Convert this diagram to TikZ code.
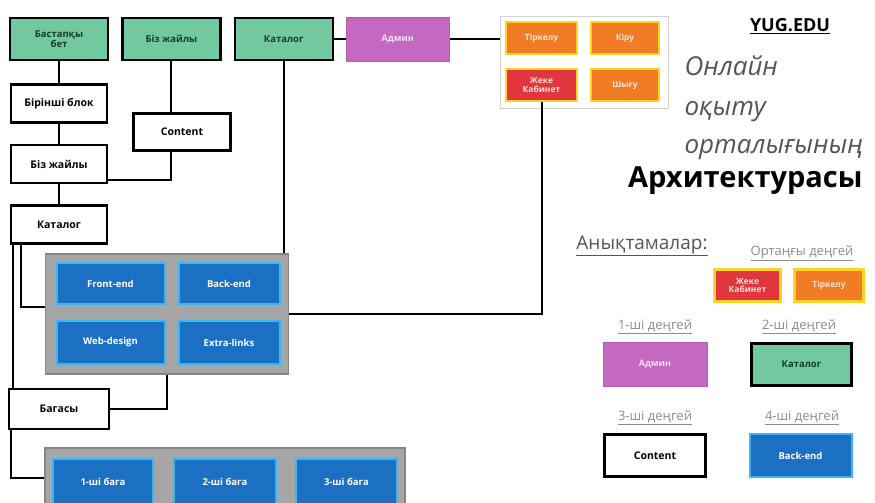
\documentclass[tikz,border=0pt]{standalone}
\usepackage{fontspec}
\setsansfont{Open Sans}
\usetikzlibrary{positioning,calc}

\definecolor{greenfill}{HTML}{72C9A0}
\definecolor{greentext}{HTML}{123D2C}
\definecolor{adminpurple}{HTML}{C568C2}
\definecolor{orangefill}{HTML}{F27B26}
\definecolor{yellowedge}{HTML}{FFD324}
\definecolor{redfill}{HTML}{E2363F}
\definecolor{bluefill}{HTML}{1C70C4}
\definecolor{blueedge}{HTML}{38B6F2}
\definecolor{panelgray}{HTML}{A6A6A6}
\definecolor{paneledge}{HTML}{858585}
\definecolor{notegray}{HTML}{555555}
\definecolor{capgray}{HTML}{8C8C8C}

\begin{document}
\begin{tikzpicture}[
    x=1pt, y=-1pt,
    node distance=20pt,
    every node/.style={font=\sffamily},
    greenbox/.style={
      rectangle, draw=black, line width=2.4pt, fill=greenfill, text=greentext,
      minimum width=98pt, minimum height=42pt, align=center,
      font=\sffamily\bfseries\fontsize{9.5}{10.5}\selectfont
    },
    levelbox/.style={
      rectangle, draw=black, line width=2.6pt, fill=white,
      minimum width=96pt, minimum height=38pt, align=center,
      font=\sffamily\bfseries\fontsize{10.5}{12}\selectfont
    },
    adminbox/.style={
      rectangle, draw=adminpurple!90!black, line width=0.6pt, fill=adminpurple,
      text=white!80!adminpurple, minimum width=103pt, minimum height=44pt,
      font=\sffamily\bfseries\fontsize{9}{10}\selectfont
    },
    orangebox/.style={
      rectangle, draw=yellowedge, line width=2.2pt, fill=orangefill,
      text=white!80!orangefill, minimum height=32pt, align=center,
      font=\sffamily\bfseries\fontsize{8.5}{9.5}\selectfont
    },
    redbox/.style={orangebox, fill=redfill},
    bluebox/.style={
      rectangle, draw=blueedge, line width=2pt, fill=bluefill, text=white,
      minimum height=41pt, font=\sffamily\bfseries\fontsize{9.5}{11}\selectfont
    },
    graypanel/.style={rectangle, draw=paneledge, line width=1.5pt, fill=panelgray},
    caption/.style={text=capgray, font=\sffamily\fontsize{13}{15}\selectfont},
    link/.style={line width=2pt, black}
  ]
    \useasboundingbox (0,0) rectangle (875,503);
    \fill[white] (0,0) rectangle (875,503);
    \clip (0,0) rectangle (875,503);

    % Top row
    \node[greenbox] (home) at (59,39) {Бастапқы\\[-1pt]бет};
    \node[greenbox, right=12pt of home] (abouttop) {Біз жайлы};
    \node[greenbox, right=12pt of abouttop] (catalogtop) {Каталог};
    \node[adminbox, right=12pt of catalogtop] (admin) {Админ};

    % Registration panel
    \node[rectangle, draw=gray!35, line width=0.8pt, fill=white,
      minimum width=168pt, minimum height=92pt] (regpanel) at (584,62) {};
    \node[orangebox, minimum width=71pt] (reg) at (541.5,38) {Тіркелу};
    \node[orangebox, minimum width=68pt] (login) at (625,38) {Кіру};
    \node[redbox, minimum width=71pt] (cabinet) at (541.5,85) {Жеке\\[-1pt]Кабинет};
    \node[orangebox, minimum width=68pt] (logout) at (625,85) {Шығу};

    % Left column
    \node[levelbox, below=22pt of home] (first) {Бірінші блок};
    \node[levelbox, below=of first] (about) {Біз жайлы};
    \node[levelbox, below=of about] (catalog) {Каталог};
    \node[levelbox, minimum width=97pt, minimum height=37pt] (content) at (182,132) {Content};
    \node[levelbox, minimum width=100pt, minimum height=40pt] (price) at (59,409) {Багасы};

    % Catalog panel
    \node[graypanel, minimum width=243pt, minimum height=120pt] (panel1) at (167,314) {};
    \node[bluebox, minimum width=108pt] (frontend) at (110.5,283.5) {Front-end};
    \node[bluebox, minimum width=101pt] (backend) at (229,283.5) {Back-end};
    \node[bluebox, minimum width=108pt, minimum height=43pt] (webdesign) at (110.5,342.5) {Web-design};
    \node[bluebox, minimum width=101pt, minimum height=43pt] (extralinks) at (229,342.5) {Extra-links};

    % Price panel
    \node[graypanel, minimum width=360pt, minimum height=74pt] (panel2) at (225,485) {};
    \node[bluebox, minimum width=100pt, minimum height=46pt] (price1) at (103,482) {1-ші бага};
    \node[bluebox, minimum width=102pt, minimum height=46pt] (price2) at (225,482) {2-ші бага};
    \node[bluebox, minimum width=101pt, minimum height=46pt] (price3) at (346.5,482) {3-ші бага};

    % Connectors
    \draw[link] (home) -- (first);
    \draw[link] (first) -- (about);
    \draw[link] (about) -- (catalog);
    \draw[link] (abouttop.south) -- (abouttop.south |- content.north);
    \draw[link] (content.south -| abouttop.south) |- ([yshift=-16pt]about.east);
    \draw[link] (catalogtop.south) -- (catalogtop.south |- panel1.north);
    \draw[link] (catalogtop) -- (admin);
    \draw[link] (admin.east) -- (admin.east -| regpanel.west);
    \coordinate (catleft) at ([xshift=3pt]catalog.south west);
    \draw[link] (catleft) -- (catleft |- price.north);
    \draw[link] ([xshift=11pt]catalog.south west) |- ([yshift=7pt]panel1.west);
    \draw[link] (panel1.east) -| (cabinet.south);
    \draw[link] (panel1.south) |- (price.east);
    \draw[link] ([xshift=3pt]price.south west) |- ([yshift=7pt]panel2.west);

    % Title
    \node[font=\sffamily\bfseries\fontsize{18}{20}\selectfont] (brand) at (790,26) {\underline{YUG.EDU}};
    \node[anchor=base west, text=notegray, font=\sffamily\itshape\fontsize{26}{28}\selectfont] (line1) at (681,75) {Онлайн};
    \node[anchor=base west, text=notegray, font=\sffamily\itshape\fontsize{26}{28}\selectfont] (line2) at (681,115) {оқыту};
    \node[anchor=base west, text=notegray, font=\sffamily\itshape\fontsize{26}{28}\selectfont] (line3) at (681,153) {орталығының};
    \node[anchor=base west, inner xsep=0pt, font=\sffamily\bfseries\fontsize{29}{32}\selectfont] (title) at (628,187) {Архитектурасы};

    % Legend
    \node[anchor=base, text=notegray, font=\sffamily\fontsize{19}{21}\selectfont] (legendhead) at (642,249) {\underline{Анықтамалар:}};
    \node[caption] (midcap) at (802,253) {\underline{Ортаңғы деңгей}};
    \node[redbox, minimum width=66pt] (legcabinet) at (747.5,285.5) {Жеке\\[-1pt]Кабинет};
    \node[orangebox, minimum width=69pt] (legreg) at (829,285.5) {Тіркелу};
    \node[caption] (lvl1) at (655,327) {\underline{1-ші деңгей}};
    \node[caption] (lvl2) at (799,327) {\underline{2-ші деңгей}};
    \node[adminbox, minimum width=104pt] (legadmin) at (655,364.5) {Админ};
    \node[greenbox, minimum width=100pt] (legcatalog) at (801.5,364.5) {Каталог};
    \node[caption] (lvl3) at (655,418) {\underline{3-ші деңгей}};
    \node[caption] (lvl4) at (802,418) {\underline{4-ші деңгей}};
    \node[levelbox, minimum width=101pt, minimum height=42pt] (legcontent) at (655,455.5) {Content};
    \node[bluebox, minimum width=102pt, minimum height=43pt] (legbackend) at (800.5,455.5) {Back-end};
  \end{tikzpicture}
\end{document}
